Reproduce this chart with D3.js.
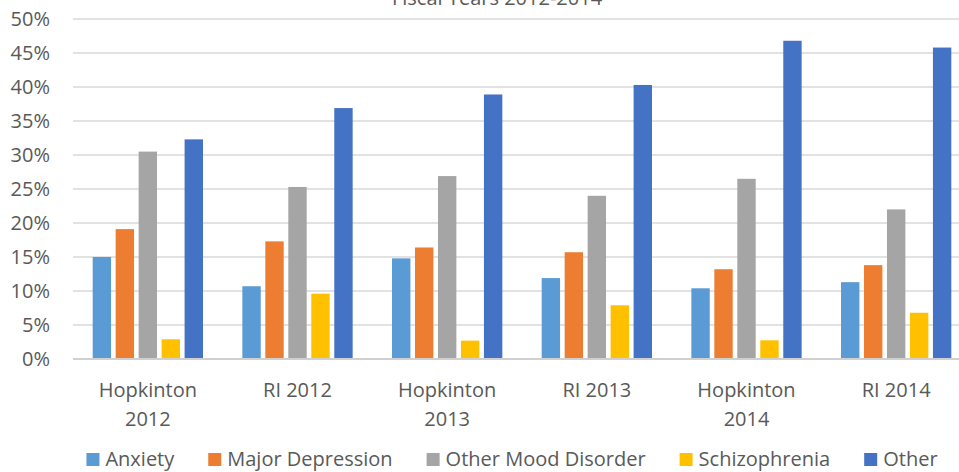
<!DOCTYPE html>
<html>
<head>
<meta charset="utf-8">
<script src="https://cdn.jsdelivr.net/npm/d3@7"></script>
<style>
  body { margin: 0; background: #fff; }
  text { font-family: "Open Sans", sans-serif; fill: #595959; }
</style>
</head>
<body>
<script>
// chart data (percent)
var groups = ["Hopkinton 2012", "RI 2012", "Hopkinton 2013", "RI 2013", "Hopkinton 2014", "RI 2014"];
var series = ["Anxiety", "Major Depression", "Other Mood Disorder", "Schizophrenia", "Other"];
var anxiety = [15.0, 10.7, 14.8, 11.9, 10.4, 11.3];
var majorDepression = [19.1, 17.3, 16.4, 15.7, 13.2, 13.8];
var otherMood = [30.5, 25.3, 26.9, 24.0, 26.5, 22.0];
var schizophrenia = [2.9, 9.6, 2.7, 7.9, 2.75, 6.8];
var other = [32.3, 36.9, 38.9, 40.3, 46.8, 45.8];
var yTicks = [0, 5, 10, 15, 20, 25, 30, 35, 40, 45, 50];
var title = "Fiscal Years 2012-2014";

var colors = ["#5B9BD5", "#ED7D31", "#A5A5A5", "#FFC000", "#4472C4"];
var values = [anxiety, majorDepression, otherMood, schizophrenia, other];

var chart = {
	width: 959,
	height: 472,
	left: 73,
	right: 971,
	top: 19,
	bottom: 359
};

var svg = d3.select("body")
	.append("svg")
	.attr("width", chart.width)
	.attr("height", chart.height);

var y = d3.scaleLinear()
	.domain([0, 50])
	.range([chart.bottom, chart.top]);

var x0 = d3.scaleBand()
	.domain(groups)
	.range([chart.left, chart.right])
	.paddingInner(0.263)
	.paddingOuter(0.1315);

var x1 = d3.scaleBand()
	.domain(series)
	.range([0, x0.bandwidth()])
	.paddingInner(0.2);

// title (cut off at the top like the original)
svg.append("text")
	.attr("x", 497)
	.attr("y", 5)
	.attr("text-anchor", "middle")
	.style("font-size", "20px")
	.text(title);

// gridlines
svg.append("g")
	.selectAll("line")
	.data(yTicks.slice(1))
	.enter()
	.append("line")
	.attr("x1", chart.left)
	.attr("x2", chart.width)
	.attr("y1", function(d){ return y(d); })
	.attr("y2", function(d){ return y(d); })
	.attr("stroke", "#d9d9d9")
	.attr("stroke-width", 1.5);

// y tick labels
svg.append("g")
	.selectAll("text")
	.data(yTicks)
	.enter()
	.append("text")
	.attr("x", 50)
	.attr("y", function(d){ return y(d); })
	.attr("dy", "0.36em")
	.attr("text-anchor", "end")
	.style("font-size", "20px")
	.text(function(d){ return d + "%"; });

// bars
var rows = [];
groups.forEach(function(g, gi){
	series.forEach(function(s, si){
		rows.push({ group: g, series: s, value: values[si][gi], color: colors[si] });
	});
});

svg.append("g")
	.selectAll("rect")
	.data(rows)
	.enter()
	.append("rect")
	.attr("x", function(d){ return x0(d.group) + x1(d.series); })
	.attr("y", function(d){ return y(d.value); })
	.attr("width", x1.bandwidth())
	.attr("height", function(d){ return y(0) - y(d.value); })
	.attr("fill", function(d){ return d.color; });

// baseline
svg.append("line")
	.attr("x1", chart.left)
	.attr("x2", chart.width)
	.attr("y1", y(0))
	.attr("y2", y(0))
	.attr("stroke", "#d0d0d0")
	.attr("stroke-width", 2);

// category labels, wrapped on the space before the year
var cat = svg.append("g")
	.selectAll("text")
	.data(groups)
	.enter()
	.append("text")
	.attr("text-anchor", "middle")
	.style("font-size", "20px");

cat.each(function(d){
	var t = d3.select(this);
	var cx = x0(d) + x0.bandwidth() / 2;
	var lines = d.indexOf("Hopkinton") === 0 ? d.split(" ") : [d];
	lines.forEach(function(l, i){
		t.append("tspan")
			.attr("x", cx)
			.attr("y", 397 + i * 29)
			.text(l);
	});
});

// legend
var legend = svg.append("g");
var gap = 34;
var pos = 0;
series.forEach(function(s, i){
	var item = legend.append("g").attr("transform", "translate(" + pos + ",0)");
	item.append("rect")
		.attr("x", 0)
		.attr("y", -6)
		.attr("width", 13)
		.attr("height", 13)
		.attr("fill", colors[i]);
	var txt = item.append("text")
		.attr("x", 19)
		.attr("y", 0)
		.attr("dy", "0.36em")
		.style("font-size", "20px")
		.text(s);
	pos += 19 + txt.node().getComputedTextLength() + gap;
});
var legendWidth = pos - gap;
legend.attr("transform", "translate(" + (512 - legendWidth / 2) + ",459)");
</script>
</body>
</html>
